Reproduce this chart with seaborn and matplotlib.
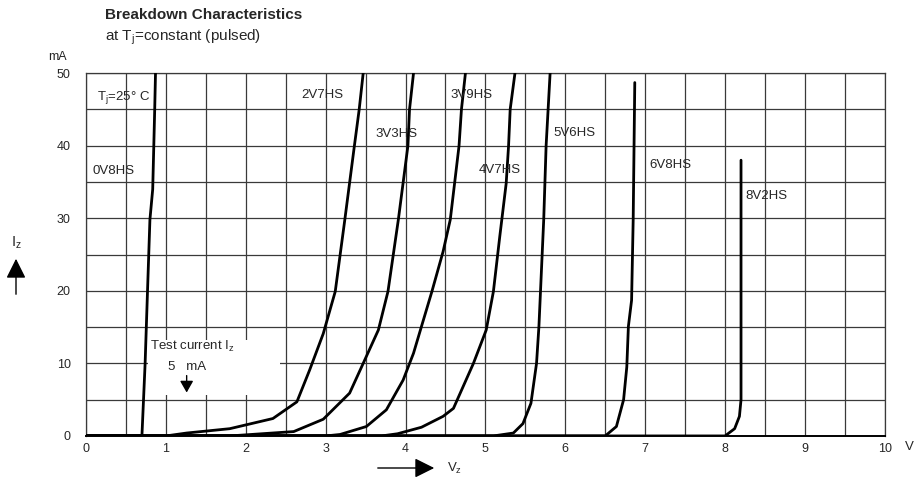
import pandas as pd
import matplotlib
matplotlib.use("Agg")
import matplotlib.pyplot as plt
from matplotlib.patches import Rectangle
import seaborn as sns

# ---- breakdown curves (V in volts, I in mA) ----
v_0v8 = [0.0, 0.70, 0.74, 0.77, 0.80, 0.835, 0.86, 0.87]
i_0v8 = [0.0, 0.0, 10.0, 20.0, 29.8, 34.0, 45.0, 50.0]

v_2v7 = [0.0, 1.0, 1.26, 1.8, 2.34, 2.64, 2.80, 2.97, 3.12, 3.24, 3.36, 3.42, 3.47]
i_2v7 = [0.0, 0.0, 0.4, 1.0, 2.4, 4.7, 9.1, 14.1, 19.9, 29.8, 40.0, 45.0, 50.0]

v_3v3 = [0.0, 1.8, 2.6, 2.97, 3.30, 3.47, 3.66, 3.78, 3.91, 4.03, 4.05, 4.10]
i_3v3 = [0.0, 0.0, 0.6, 2.3, 5.9, 10.0, 14.6, 19.9, 29.8, 40.0, 45.0, 50.0]

v_3v9 = [0.0, 3.0, 3.18, 3.51, 3.76, 3.97, 4.10, 4.20, 4.33, 4.47, 4.56, 4.67, 4.70, 4.75]
i_3v9 = [0.0, 0.0, 0.2, 1.3, 3.6, 7.7, 11.4, 15.1, 19.9, 25.4, 29.8, 40.0, 45.0, 50.0]

v_4v7 = [0.0, 3.7, 3.9, 4.2, 4.47, 4.60, 4.85, 5.01, 5.10, 5.18, 5.26, 5.29, 5.31, 5.37]
i_4v7 = [0.0, 0.0, 0.3, 1.2, 2.7, 3.8, 10.0, 14.6, 19.9, 27.5, 34.8, 40.0, 45.0, 50.0]

v_5v6 = [0.0, 5.1, 5.35, 5.47, 5.57, 5.64, 5.67, 5.73, 5.76, 5.81]
i_5v6 = [0.0, 0.0, 0.4, 1.7, 4.5, 10.0, 15.1, 29.8, 40.0, 50.0]

v_6v8 = [0.0, 6.5, 6.64, 6.73, 6.77, 6.79, 6.83, 6.85, 6.87]
i_6v8 = [0.0, 0.0, 1.3, 5.0, 9.5, 15.1, 18.7, 29.8, 48.7]

v_8v2 = [0.0, 8.0, 8.12, 8.18, 8.2, 8.2]
i_8v2 = [0.0, 0.0, 1.0, 2.7, 5.0, 38.0]

diodes = ["0V8HS", "2V7HS", "3V3HS", "3V9HS", "4V7HS", "5V6HS", "6V8HS", "8V2HS"]
volts = [v_0v8, v_2v7, v_3v3, v_3v9, v_4v7, v_5v6, v_6v8, v_8v2]
currents = [i_0v8, i_2v7, i_3v3, i_3v9, i_4v7, i_5v6, i_6v8, i_8v2]

x_ticks = [0, 1, 2, 3, 4, 5, 6, 7, 8, 9, 10]
y_ticks = [0, 10, 20, 30, 40, 50]

# long-form table for seaborn
rows = []
for name, vs, cs in zip(diodes, volts, currents):
    for k, (v, c) in enumerate(zip(vs, cs)):
        rows.append({"diode": name, "order": k, "Vz": v, "Iz": c})
curves = pd.DataFrame(rows)

# ---- style ----
sns.set_style("white")
plt.rcParams["font.family"] = ["Liberation Sans", "DejaVu Sans"]
plt.rcParams["mathtext.fontset"] = "custom"
plt.rcParams["mathtext.rm"] = "Liberation Sans"
plt.rcParams["mathtext.it"] = "Liberation Sans:italic"

fig = plt.figure(figsize=(9.15, 4.78), dpi=100)
ax = fig.add_axes([0.094, 0.088, 0.873, 0.759])

grid_col = "#3a3a3a"

sns.lineplot(
    data=curves,
    x="Vz",
    y="Iz",
    hue="diode",
    palette=["black"] * len(diodes),
    units="diode",
    estimator=None,
    sort=False,
    legend=False,
    linewidth=2.0,
    ax=ax,
    zorder=5,
)

ax.set_xlim(0, 10)
ax.set_ylim(0, 50)
ax.set_xticks(x_ticks)
ax.set_xticklabels([str(t) for t in x_ticks])
ax.set_yticks(y_ticks)
ax.set_yticklabels([str(t) for t in y_ticks])
ax.set_xticks([t + 0.5 for t in x_ticks[:-1]], minor=True)
ax.set_yticks([t + 5 for t in y_ticks[:-1]], minor=True)
ax.grid(True, which="both", color=grid_col, linewidth=0.9)
ax.set_axisbelow(True)
ax.tick_params(which="both", length=0)
ax.tick_params(axis="y", pad=11, labelsize=9)
ax.tick_params(axis="x", pad=5, labelsize=9)
ax.set_xlabel("")
ax.set_ylabel("")
for sp in ax.spines.values():
    sp.set_color(grid_col)
    sp.set_linewidth(0.9)
ax.spines["bottom"].set_color("black")
ax.spines["bottom"].set_linewidth(1.4)

# curve names
label_pos = [(0.075, 36.5), (2.70, 47.0), (3.62, 41.6), (4.56, 47.0),
             (4.91, 36.6), (5.85, 41.8), (7.05, 37.3), (8.25, 33.1)]
for name, (lx, ly) in zip(diodes, label_pos):
    ax.text(lx, ly, name, fontsize=9.5, ha="left", va="center", zorder=6)

ax.text(0.14, 46.7, r"T$_{\rm j}$=25° C", fontsize=9.5, ha="left", va="center", zorder=6)

# test current note
ax.add_patch(Rectangle((0.78, 5.7), 1.65, 7.5, facecolor="white",
                       edgecolor="none", zorder=3))
ax.text(0.80, 12.3, r"Test current I$_{\rm z}$", fontsize=9.5, ha="left",
        va="center", zorder=6)
ax.text(1.03, 9.5, "5   mA", fontsize=9.5, ha="left", va="center", zorder=6)
ax.annotate("", xy=(1.26, 5.6), xytext=(1.26, 8.7),
            arrowprops=dict(arrowstyle="-|>,head_length=0.7,head_width=0.4",
                            mutation_scale=10, color="black", lw=1),
            zorder=6)

# unit labels
ax.text(1.031, -0.03, "V", transform=ax.transAxes, fontsize=9.5,
        ha="center", va="center")
fig.text(57 / 915, 1 - 57 / 478, "mA", fontsize=9, ha="center", va="center")

# axis arrows
fig.text(16 / 915, 1 - 243 / 478, r"I$_{\rm z}$", fontsize=10.5,
         ha="center", va="center")
ax.annotate("", xy=(16 / 915, 1 - 256 / 478), xytext=(16 / 915, 1 - 297 / 478),
            xycoords="figure fraction", textcoords="figure fraction",
            arrowprops=dict(arrowstyle="-|>,head_length=0.6,head_width=0.3",
                            mutation_scale=20, color="black", lw=1),
            annotation_clip=False)
ax.annotate("", xy=(437 / 915, 1 - 468 / 478), xytext=(375 / 915, 1 - 468 / 478),
            xycoords="figure fraction", textcoords="figure fraction",
            arrowprops=dict(arrowstyle="-|>,head_length=0.6,head_width=0.3",
                            mutation_scale=20, color="black", lw=1),
            annotation_clip=False)
fig.text(447 / 915, 1 - 468 / 478, r"V$_{\rm z}$", fontsize=9.5,
         ha="left", va="center")

# title
fig.text(105 / 915, 1 - 15 / 478, "Breakdown Characteristics", fontsize=11,
         fontweight="bold", ha="left", va="center")
fig.text(105 / 915, 1 - 37 / 478, r"at T$_{\rm j}$=constant (pulsed)",
         fontsize=11, ha="left", va="center")

fig.savefig("out.png", dpi=100)
